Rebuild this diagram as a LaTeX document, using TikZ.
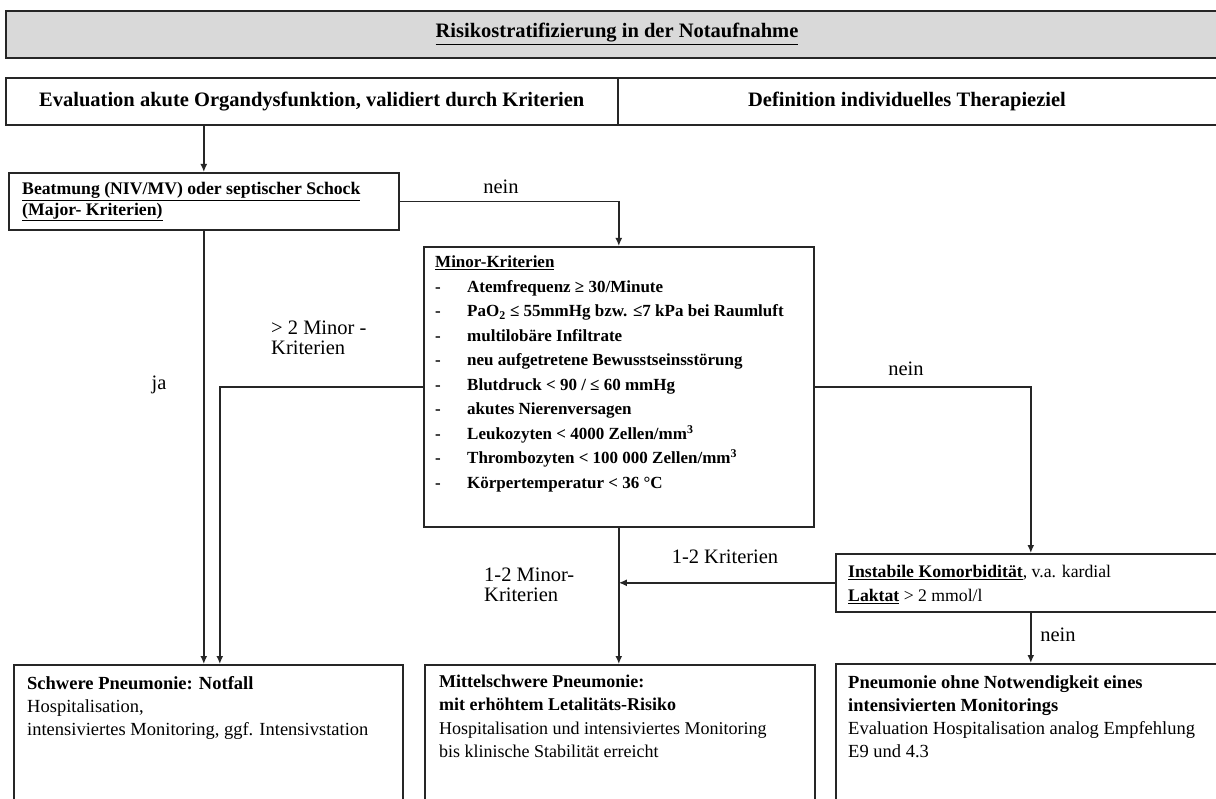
\documentclass[tikz,border=0pt]{standalone}
\usepackage{fontspec}
\setmainfont{Liberation Serif}
\usetikzlibrary{arrows.meta,calc}
\tikzset{
  frame/.style={draw=black!85, line width=1.6pt, inner sep=0pt, anchor=north west},
  boxtext/.style={anchor=north west, inner sep=0pt, align=left, font=\fontsize{18.5}{23.3}\selectfont},
  headtext/.style={inner sep=0pt, font=\fontsize{20.5}{24}\selectfont\bfseries},
  conn/.style={draw=black!85, line width=1.5pt},
  arr/.style={conn, -{Latex[length=8pt,width=7pt]}},
  lbl/.style={inner sep=0pt, font=\fontsize{20.5}{20}\selectfont},
}
\begin{document}
\begin{tikzpicture}[x=1pt,y=-1pt]
\clip (0,0) rectangle (1216,799);
\useasboundingbox (0,0) rectangle (1216,799);
\fill[white] (0,0) rectangle (1216,799);

% title
\node[frame, fill=black!15, line width=2.2pt, minimum width=1225pt, minimum height=47pt] (title) at (5,10) {};
\node[headtext] (titletext) at (617,34) {\underline{Risikostratifizierung in der Notaufnahme}};

% second row
\node[frame, minimum width=612pt, minimum height=47pt] (eval) at (5,77) {};
\node[frame, minimum width=613pt, minimum height=47pt] (ther) at (617,77) {};
\node[headtext] (evaltext) at (eval.center) {Evaluation akute Organdysfunktion, validiert durch Kriterien};
\node[headtext] (thertext) at (907,101) {Definition individuelles Therapieziel};

% Beatmung
\node[frame, minimum width=390pt, minimum height=57pt] (beat) at (8,172) {};
\node[boxtext, font=\fontsize{17.7}{21}\selectfont\bfseries] (beattext) at (22,182)
  {\underline{Beatmung (NIV/MV) oder septischer Schock}\\\underline{(Major- Kriterien)}};

% Minor
\node[frame, minimum width=390pt, minimum height=280pt] (minor) at (423,246) {};
\node[boxtext, font=\fontsize{17}{24.5}\selectfont\bfseries] (minortext) at (435,256)
  {\underline{Minor-Kriterien}\\
   \makebox[32pt][l]{-}Atemfrequenz ≥ 30/Minute\\
   \makebox[32pt][l]{-}PaO\textsubscript{2} ≤ 55mmHg bzw. ≤7 kPa bei Raumluft\\
   \makebox[32pt][l]{-}multilobäre Infiltrate\\
   \makebox[32pt][l]{-}neu aufgetretene Bewusstseinsstörung\\
   \makebox[32pt][l]{-}Blutdruck < 90 / ≤ 60 mmHg\\
   \makebox[32pt][l]{-}akutes Nierenversagen\\
   \makebox[32pt][l]{-}Leukozyten < 4000 Zellen/mm\textsuperscript{3}\\
   \makebox[32pt][l]{-}Thrombozyten < 100 000 Zellen/mm\textsuperscript{3}\\
   \makebox[32pt][l]{-}Körpertemperatur < 36 °C};

% Instabile
\node[frame, minimum width=390pt, minimum height=58pt] (instab) at (835,553) {};
\node[boxtext, font=\fontsize{17.7}{24}\selectfont] (instabtext) at (848,565)
  {\textbf{\underline{Instabile Komorbidität}}, v.a. kardial\\\textbf{\underline{Laktat}} > 2 mmol/l};

% bottom boxes
\node[frame, minimum width=389pt, minimum height=160pt] (schwer) at (13,664) {};
\node[boxtext] (schwertext) at (27,676)
  {\textbf{Schwere Pneumonie: Notfall}\\Hospitalisation,\\intensiviertes Monitoring, ggf. Intensivstation};

\node[frame, minimum width=390pt, minimum height=160pt] (mittel) at (424,664) {};
\node[boxtext, font=\fontsize{18}{23.3}\selectfont] (mitteltext) at (439,675)
  {\textbf{Mittelschwere Pneumonie:}\\\textbf{mit erhöhtem Letalitäts-Risiko}\\Hospitalisation und intensiviertes Monitoring\\bis klinische Stabilität erreicht};

\node[frame, minimum width=390pt, minimum height=160pt] (ohne) at (835,663) {};
\node[boxtext] (ohnetext) at (848,675)
  {\textbf{Pneumonie ohne Notwendigkeit eines}\\\textbf{intensivierten Monitorings}\\Evaluation Hospitalisation analog Empfehlung\\E9 und 4.3};

% connectors
\draw[arr] (beat.north |- eval.south) -- (beat.north);
\draw[arr] (beat.east) -| (minor.north);
\draw[arr] (beat.south) -- (beat.south |- schwer.north);
\draw[arr] (minor.west) -| ([xshift=16pt]beat.south |- schwer.north);
\draw[arr] (minor.east) -| (instab.north);
\draw[arr] (minor.south) -- (minor.south |- mittel.north);
\draw[arr] (instab.west) -- (instab.west -| minor.south);
\draw[arr] (instab.south) -- (ohne.north);

% labels
\node[lbl] (l-nein1) at (501,187) {nein};
\node[lbl] (l-ja) at (159,385) {ja};
\node[lbl, anchor=west, align=left] (l-mehr) at (271,338) {> 2 Minor -\\Kriterien};
\node[lbl] (l-nein2) at (906,369) {nein};
\node[lbl, anchor=west, align=left] (l-12minor) at (484,585) {1-2 Minor-\\Kriterien};
\node[lbl] (l-12krit) at (725,557) {1-2 Kriterien};
\node[lbl] (l-nein3) at (1058,635) {nein};
\end{tikzpicture}
\end{document}
